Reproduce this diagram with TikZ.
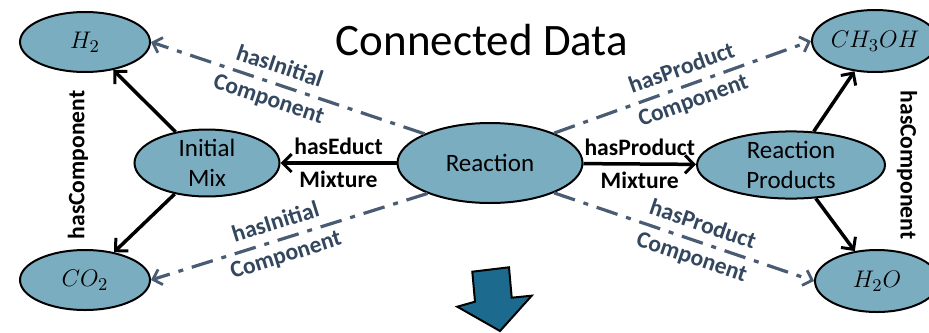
\documentclass[tikz,border=0pt]{standalone}
\usepackage{fontspec}
\setmainfont{Carlito}
\usetikzlibrary{shapes.geometric,arrows.meta}
\definecolor{nodefill}{HTML}{7BADC1}
\definecolor{linkgray}{HTML}{4A5C73}
\definecolor{labelgray}{HTML}{33475F}
\definecolor{bigarrow}{HTML}{1C6B8F}
\begin{document}
\begin{tikzpicture}[x=0.5pt,y=-0.5pt,
        entity/.style={ellipse,draw=black,line width=1pt,fill=nodefill,inner sep=0pt,font=\fontsize{12.5}{15}\selectfont,align=center},
        relation/.style={line width=1.75pt,-{Straight Barb[length=4.5pt,width=9pt,line width=1.5pt]}},
        derived/.style={line width=1.6pt,color=linkgray,dash pattern=on 11pt off 4.5pt on 2.5pt off 4.5pt,
                        -{Straight Barb[length=4pt,width=8pt,line width=1.4pt]}},
        rellabel/.style={font=\bfseries\fontsize{11.8}{13}\selectfont},
        derlabel/.style={font=\bfseries\fontsize{11.8}{17}\selectfont,text=labelgray,align=center,sloped}]
        \useasboundingbox[fill=white] (0,0) rectangle (929,332);

        % Titel
        \node (title) at (482,40) {\fontsize{22.5}{26}\selectfont Connected Data};

        % Knoten
        \node[entity,minimum width=92.5pt,minimum height=40pt] (reac) at (490,163) {Reaction};
        \node[entity,minimum width=72.5pt,minimum height=30pt] (mix) at (207,163) {Initial\\Mix};
        \node[entity,minimum width=94pt,minimum height=30pt] (prod) at (791,165) {Reaction\\Products};
        \node[entity,minimum width=65pt,minimum height=30pt] (h2) at (85,42) {$H_2$};
        \node[entity,minimum width=65pt,minimum height=30pt] (co2) at (85,280) {$CO_2$};
        \node[entity,minimum width=63pt,minimum height=31pt] (meoh) at (875,41) {$CH_3OH$};
        \node[entity,minimum width=62pt,minimum height=31pt] (h2o) at (877,281) {$H_2O$};

        % Beziehungen
        \draw[relation] (reac) -- (mix)
            node[rellabel,pos=0.5,above] {hasEduct}
            node[rellabel,pos=0.5,below] {Mixture};
        \draw[relation] (reac) -- (prod)
            node[rellabel,pos=0.5,above] {hasProduct}
            node[rellabel,pos=0.5,below] {Mixture};
        \draw[relation] (mix) -- (h2);
        \draw[relation] (mix) -- (co2);
        \draw[relation] (prod) -- (meoh);
        \draw[relation] (prod) -- (h2o);
        \node[rellabel,rotate=90] (compleft) at (78,165) {hasComponent};
        \node[rellabel,rotate=-90] (compright) at (907,165) {hasComponent};

        % Abgeleitete Beziehungen
        \draw[derived] (reac.156) -- (h2.east)
            node[derlabel,pos=0.55] {hasInitial\\Component};
        \draw[derived] (reac.206) -- (co2.east)
            node[derlabel,pos=0.53] {hasInitial\\Component};
        \draw[derived] (reac.25) -- (meoh.west)
            node[derlabel,pos=0.52] {hasProduct\\Component};
        \draw[derived] (reac.-25) -- (h2o.west)
            node[derlabel,pos=0.55] {hasProduct\\Component};

        % Pfeil
        \draw[fill=bigarrow,line width=1pt,line join=miter] (472.3,271.7) -- (509,267.3) -- (511.7,297.7)
            -- (531.7,295.7) -- (500,331) -- (457.3,306.7) -- (475,301.7) -- cycle;
    \end{tikzpicture}
\end{document}
